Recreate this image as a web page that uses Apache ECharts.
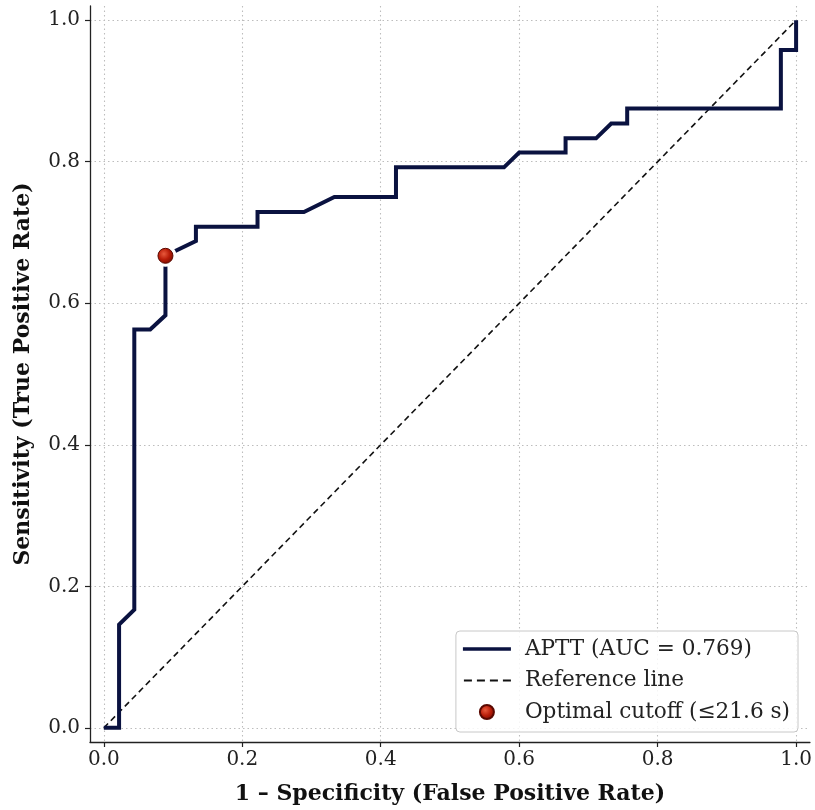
<!DOCTYPE html>
<html>
<head>
<meta charset="utf-8">
<script src="https://cdn.jsdelivr.net/npm/echarts@6/dist/echarts.min.js"></script>
<style>
  html, body { margin: 0; padding: 0; background: #fff; }
  #roc { width: 815px; height: 810px; }
</style>
</head>
<body>
<div id="roc"></div>
<script>
// ROC curve points
const fpr = [0, 0.022, 0.022, 0.044, 0.044, 0.067, 0.089, 0.089, 0.133, 0.133,
  0.222, 0.222, 0.289, 0.333, 0.422, 0.422, 0.578, 0.6, 0.667, 0.667,
  0.711, 0.733, 0.756, 0.756, 0.978, 0.978, 1, 1]
const tpr = [0, 0, 0.146, 0.167, 0.563, 0.563, 0.583, 0.667, 0.688, 0.708,
  0.708, 0.729, 0.729, 0.75, 0.75, 0.792, 0.792, 0.813, 0.813, 0.833,
  0.833, 0.854, 0.854, 0.875, 0.875, 0.958, 0.958, 1]
const refX = [0, 1]
const refY = [0, 1]
const cutoff = [0.089, 0.667]
const ticks = [0, 0.2, 0.4, 0.6, 0.8, 1.0]

const rocName = 'APTT (AUC = 0.769)'
const refName = 'Reference line'
const cutName = 'Optimal cutoff (≤21.6 s)'

var chartDom = document.getElementById('roc')
var myChart = echarts.init(chartDom)
const serif = 'DejaVu Serif'
const navy = '#0a1240'

// legend icons: thin bar / dashes inside a 48x14 box (corner specks keep the box size)
const box = 'M0,0L0.05,0L0.05,0.05Z M48,14L47.95,14L47.95,13.95Z '
const solidIcon = 'path://' + box + 'M0,5.2L48,5.2L48,8.8L0,8.8Z'
const dashIcon = 'path://' + box + 'M1,6.1L9,6.1L9,7.9L1,7.9Z M14,6.1L22,6.1L22,7.9L14,7.9Z M27,6.1L35,6.1L35,7.9L27,7.9Z M40,6.1L48,6.1L48,7.9L40,7.9Z'

function makeAxis(isX) {
  return {
    type: 'value',
    min: -0.02,
    max: 1.02,
    name: isX ? '1 – Specificity (False Positive Rate)' : 'Sensitivity (True Positive Rate)',
    nameLocation: 'middle',
    nameGap: isX ? 41 : 56,
    nameTextStyle: { fontFamily: serif, fontWeight: 'bold', fontSize: 22, color: '#111' },
    axisLine: { show: true, onZero: false, lineStyle: { color: '#222', width: 1.3 } },
    axisTick: { show: true, length: 5, customValues: ticks, lineStyle: { color: '#222', width: 1.2 } },
    axisLabel: {
      customValues: ticks,
      margin: isX ? 8 : 10,
      fontFamily: serif,
      fontSize: 20,
      color: '#222',
      formatter: v => v.toFixed(1)
    },
    splitLine: { show: true, lineStyle: { color: '#bdbdbd', width: 1.1, type: [1.5, 3] } }
  }
}

var option = {
  animation: false,
  backgroundColor: '#fff',
  grid: { left: 90, right: 5, top: 6, bottom: 67, containLabel: false },
  xAxis: makeAxis(true),
  yAxis: makeAxis(false),
  legend: {
    right: 17,
    bottom: 78,
    orient: 'vertical',
    align: 'left',
    padding: [6, 8, 8, 7],
    itemGap: 7.5,
    itemWidth: 48,
    itemHeight: 14,
    backgroundColor: 'rgba(255,255,255,0.85)',
    borderColor: '#c8c8c8',
    borderWidth: 1,
    borderRadius: 4,
    textStyle: { fontFamily: serif, fontSize: 21.6, lineHeight: 24, color: '#222', padding: [0, 0, 0, 9] },
    data: [
      { name: rocName, icon: solidIcon },
      { name: refName, icon: dashIcon },
      { name: cutName }
    ]
  },
  series: [
    {
      name: refName,
      type: 'line',
      data: refX.map((x, i) => [x, refY[i]]),
      showSymbol: false,
      symbol: 'none',
      z: 2,
      lineStyle: { color: '#111', width: 1.6, type: [6, 4] },
      itemStyle: { color: '#111' }
    },
    {
      name: rocName,
      type: 'line',
      data: fpr.map((x, i) => [x, tpr[i]]),
      showSymbol: false,
      symbol: 'none',
      z: 3,
      lineStyle: { color: navy, width: 4, join: 'miter' },
      itemStyle: { color: navy }
    },
    {
      name: 'halo',
      type: 'scatter',
      data: [cutoff],
      symbolSize: 22,
      z: 4,
      silent: true,
      itemStyle: { color: '#fff', opacity: 1 }
    },
    {
      name: cutName,
      type: 'scatter',
      data: [cutoff],
      symbolSize: 15,
      z: 5,
      itemStyle: {
        color: {
          type: 'radial', x: 0.4, y: 0.38, r: 0.65,
          colorStops: [
            { offset: 0, color: '#e8593c' },
            { offset: 0.55, color: '#b81c08' },
            { offset: 1, color: '#7a0c00' }
          ]
        },
        borderColor: '#5a0800',
        borderWidth: 1,
        opacity: 1
      }
    }
  ]
}

option && myChart.setOption(option)
</script>
</body>
</html>
